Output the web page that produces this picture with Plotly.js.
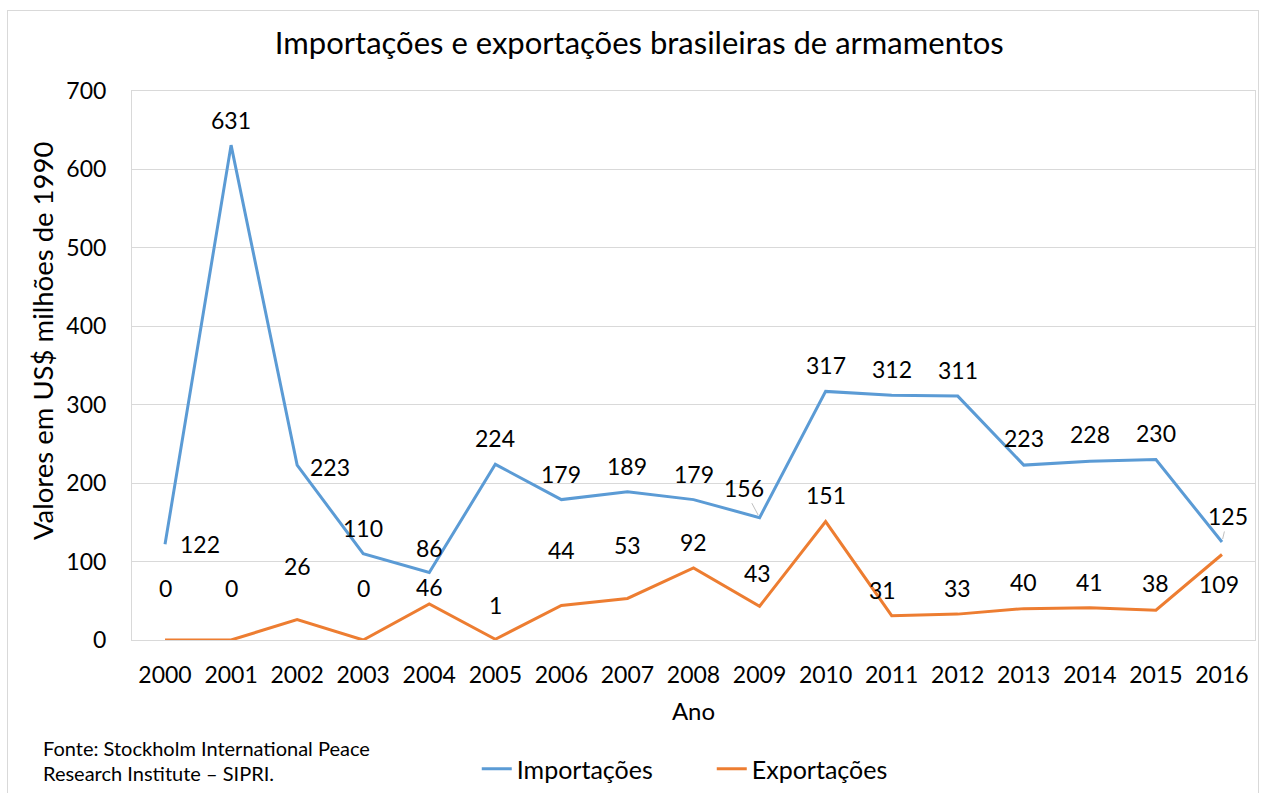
<!DOCTYPE html>
<html><head><meta charset="utf-8">
<script src="https://cdn.plot.ly/plotly-3.0.1.min.js"></script>
<style>
html,body{margin:0;padding:0;background:#fff;}
#wrap{position:relative;width:1261px;height:793px;}
#chart{width:1261px;height:793px;}
#frame{position:absolute;left:7px;top:10px;width:1250px;height:795px;border:1px solid #d9d9d9;pointer-events:none;}
</style></head>
<body><div id="wrap"><div id="chart"></div><div id="frame"></div></div>
<script>
const years = ['2000','2001','2002','2003','2004','2005','2006','2007','2008','2009','2010','2011','2012','2013','2014','2015','2016'];
const importacoes = [122,631,223,110,86,224,179,189,179,156,317,312,311,223,228,230,125];
const exportacoes = [0,0,26,0,46,1,44,53,92,43,151,31,33,40,41,38,109];
const seriesNames = ['Importações','Exportações'];

// label offsets (pixels) mimicking the original label placement
const impOff = [[35,0],[0,-25],[33,2],[0,-26],[0,-25],[0,-26],[0,-26],[0,-26],[0,-26],[-16,-30],[0,-26],[0,-26],[0,-26],[0,-27],[0,-27],[0,-27],[6,-26]];
const expOff = [[0,-52],[0,-52],[0,-54],[0,-52],[0,-17],[0,-34],[0,-55],[0,-53],[0,-26],[-2,-33],[0,-27],[-9,-26],[0,-26],[0,-27],[0,-26],[0,-27],[-3,29]];
const impLeader = [9,16];

const FONT = 'Lato, "Open Sans", sans-serif';
const blue = '#5b9bd5', orange = '#ed7d31';

const traces = [
  {x: years, y: importacoes, name: seriesNames[0], type:'scatter', mode:'lines', line:{color:blue, width:3}},
  {x: years, y: exportacoes, name: seriesNames[1], type:'scatter', mode:'lines', line:{color:orange, width:3}}
];

const ann = [];
function addLabels(vals, offs, leaders){
  vals.forEach((v,i)=>{
    const lead = leaders && leaders.includes(i);
    ann.push({x: i, y: v, xref:'x', yref:'y', text: String(v), showarrow: true,
      arrowhead:0, arrowwidth:1, arrowcolor: lead ? '#bfbfbf' : 'rgba(0,0,0,0)', standoff: 3,
      ax: offs[i][0], ay: offs[i][1], font:{family:FONT, size:23, color:'#000'}});
  });
}
addLabels(importacoes, impOff, impLeader);
addLabels(exportacoes, expOff, null);
ann.push({xref:'paper', yref:'paper', x:-0.081, y:-0.1965, xanchor:'left', yanchor:'middle', showarrow:false,
  text:'Fonte: Stockholm International Peace', font:{family:FONT, size:20, color:'#000'}});
ann.push({xref:'paper', yref:'paper', x:-0.081, y:-0.2425, xanchor:'left', yanchor:'middle', showarrow:false,
  text:'Research Institute – SIPRI.', font:{family:FONT, size:20, color:'#000'}});
// y-axis title (placed as in the original, slightly above plot centre)
ann.push({xref:'paper', yref:'paper', x:-0.0801, y:0.5446, xanchor:'center', yanchor:'middle', showarrow:false, textangle:-90,
  text:'Valores em US$ milhões de 1990', font:{family:FONT, size:27.5, color:'#000'}});

const layout = {
  width:1261, height:793,
  margin:{l:132, r:6, t:91, b:153, autoexpand:false},
  paper_bgcolor:'#fff', plot_bgcolor:'#fff',
  font:{family:FONT, color:'#000'},
  title:{text:'Importações e exportações brasileiras de armamentos', font:{family:FONT, size:31, color:'#000'}, x:0.507, xref:'container', xanchor:'center', y:0.945, yanchor:'middle'},
  xaxis:{type:'category', range:[-0.5,16.5], showgrid:false, showline:true, linecolor:'#d9d9d9', linewidth:1, mirror:true,
    ticks:'outside', ticklen:14, tickcolor:'rgba(0,0,0,0)', tickfont:{family:FONT, size:23, color:'#000'},
    title:{text:'Ano', font:{family:FONT, size:24, color:'#000'}, standoff:16}, zeroline:false, fixedrange:true},
  yaxis:{range:[0,700], dtick:100, showgrid:true, gridcolor:'#d9d9d9', gridwidth:1, showline:true, linecolor:'#d9d9d9', mirror:true,
    ticks:'outside', ticklen:20, tickcolor:'rgba(0,0,0,0)', tickfont:{family:FONT, size:23, color:'#000'},
    zeroline:false, fixedrange:true},
  showlegend:true,
  legend:{orientation:'h', x:0.307, xanchor:'left', y:-0.235, yanchor:'middle', font:{family:FONT, size:25, color:'#000'}, entrywidth:190, itemwidth:30, traceorder:'normal'},
  annotations: ann
};
Plotly.newPlot('chart', traces, layout, {displayModeBar:false, staticPlot:true});
</script></body></html>
